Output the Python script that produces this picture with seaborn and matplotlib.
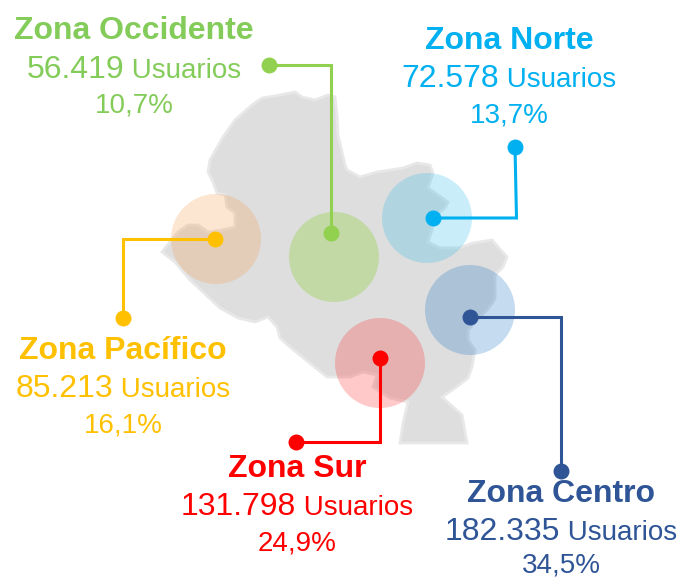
"""Usuarios por zona, sobre el mapa de la region."""

import matplotlib.pyplot as plt
import pandas as pd
import seaborn as sns

W, H = 681, 578

zonas = ["Zona Occidente", "Zona Norte", "Zona Pacífico", "Zona Sur", "Zona Centro"]
usuarios = ["56.419", "72.578", "85.213", "131.798", "182.335"]
porcentajes = ["10,7%", "13,7%", "16,1%", "24,9%", "34,5%"]

text_colors = ["#84CC5A", "#00B0F0", "#FFC000", "#FF0000", "#2F5597"]
dot_colors = ["#92D050", "#00B0F0", "#FFC000", "#FF0000", "#2F5597"]
bubble_colors = ["#72CE00", "#28BCEC", "#F69B48", "#FF2828", "#1870C4"]

# all positions are picture pixels
text_x = [134, 509, 123, 297, 561]
title_y = [39, 49, 359, 477, 502]
value_y = [78, 87, 397, 515, 540]
pct_y = [113, 122, 432, 550, 572]

bubble_x = [334, 427, 216, 380, 470]
bubble_y = [257, 218, 239, 363, 310]

line_x = [[269, 331, 331], [515, 516.5, 433], [123, 123, 215], [296, 380, 380], [470, 561, 561]]
line_y = [[65, 65, 233], [147, 218, 218], [318, 239, 239], [442, 442, 358], [317, 317, 471]]

map_x = [217, 213, 208, 210, 223, 235, 252, 262, 280, 295, 302, 315, 328, 335, 337,
         338, 345, 347, 360, 377, 403, 417, 430, 433, 428, 448, 445, 433, 432, 428,
         440, 458, 473, 492, 507, 503, 495, 495, 493, 487, 477, 468, 468, 475, 472,
         468, 455, 442, 462, 467, 437, 400, 403, 408, 390, 373, 377, 363, 350, 335,
         327, 290, 280, 277, 268, 255, 238, 220, 190, 175, 162, 165, 178, 188, 198,
         208, 222, 235, 235, 227, 225]
map_y = [193, 182, 172, 160, 137, 120, 105, 98, 95, 92, 97, 100, 95, 97, 115,
         135, 165, 170, 177, 172, 168, 163, 165, 173, 188, 202, 208, 218, 230, 242,
         248, 248, 243, 240, 257, 267, 275, 298, 302, 310, 320, 330, 340, 350, 367,
         378, 388, 397, 415, 443, 443, 443, 423, 402, 398, 387, 375, 372, 377, 377,
         377, 347, 338, 327, 317, 322, 318, 308, 280, 262, 252, 248, 232, 225, 225,
         232, 230, 227, 213, 207, 195]

sns.set_theme(style="white")
plt.rcParams["font.family"] = ["Liberation Sans", "DejaVu Sans"]

fig = plt.figure(figsize=(W / 100, H / 100), dpi=100)
ax = fig.add_axes([0, 0, 1, 1])

# Map silhouette
ax.fill(map_x, map_y, facecolor="#DEDEDE", edgecolor="#E8E8E8", linewidth=2, zorder=1)

# Translucent bubbles
bubbles = pd.DataFrame({"x": bubble_x, "y": bubble_y, "zona": zonas})
sns.scatterplot(data=bubbles, x="x", y="y", hue="zona", palette=bubble_colors, s=4199,
                alpha=0.25, linewidth=0, legend=False, ax=ax, zorder=2)

# Connectors with a dot on each end
for i, zona in enumerate(zonas):
    ax.plot(line_x[i], line_y[i], color=dot_colors[i], linewidth=2.2, zorder=3,
            solid_joinstyle="miter")
    ends = pd.DataFrame({"x": [line_x[i][0], line_x[i][-1]], "y": [line_y[i][0], line_y[i][-1]]})
    sns.scatterplot(data=ends, x="x", y="y", color=dot_colors[i], s=132, linewidth=0,
                    legend=False, ax=ax, zorder=4)

ax.set_xlim(0, W)
ax.set_ylim(H, 0)
ax.axis("off")

# Labels
renderer = fig.canvas.get_renderer()
for i, zona in enumerate(zonas):
    c = text_colors[i]
    ax.text(text_x[i], title_y[i], zona, color=c, fontsize=23, fontweight="bold",
            ha="center", va="baseline", zorder=5)
    num = ax.text(0, value_y[i], usuarios[i], color=c, fontsize=23, ha="left", va="baseline", zorder=5)
    unit = ax.text(0, value_y[i], " Usuarios", color=c, fontsize=20, ha="left", va="baseline", zorder=5)
    num_w = num.get_window_extent(renderer).width
    unit_w = unit.get_window_extent(renderer).width
    left = text_x[i] - (num_w + unit_w) / 2
    num.set_x(left)
    unit.set_x(left + num_w)
    ax.text(text_x[i], pct_y[i], porcentajes[i], color=c, fontsize=20,
            ha="center", va="baseline", zorder=5)

fig.savefig("out.png", dpi=100)
